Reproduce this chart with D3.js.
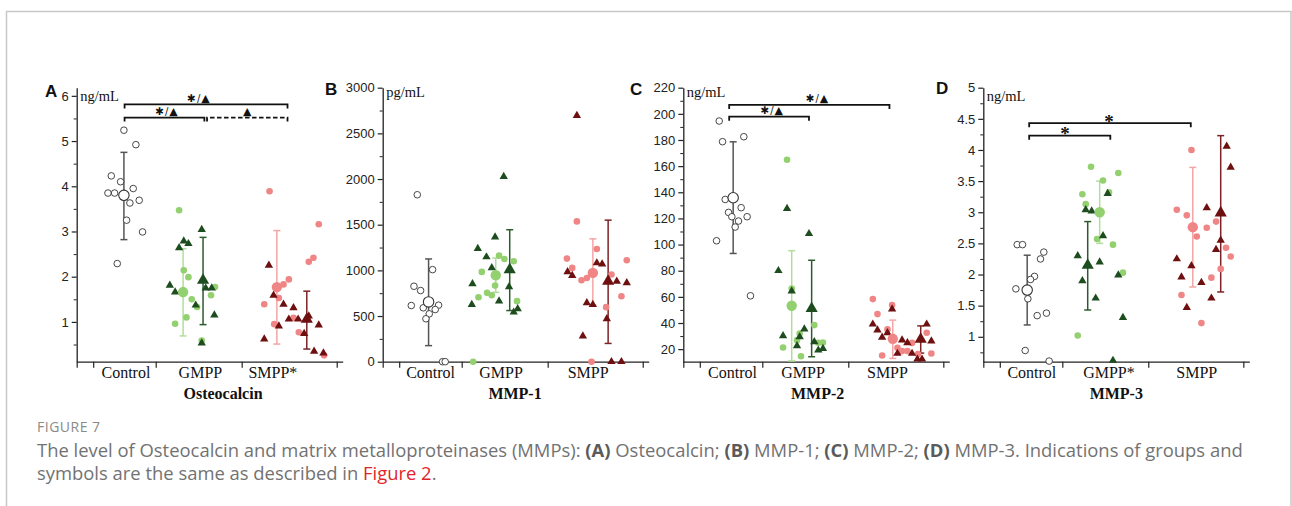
<!DOCTYPE html>
<html><head><meta charset="utf-8">
<script src="https://cdn.jsdelivr.net/npm/d3@7"></script>
<style>body{margin:0;background:#fff} svg{display:block}</style>
</head><body><svg id="c" width="1292" height="506"></svg>
<script>
// ================= DATA =================
// point pairs: [position on category axis (0..4), value]
const catsA = ["Control","GMPP","SMPP*"];
const catPosA = [0.74,1.86,2.95];
const yTicksA = [1,2,3,4,5,6];
const yMinorA = [0.5,1.5,2.5,3.5,4.5,5.5];
const yDomainA = [0.12,6.18];
const A_control = [[0.71,5.24],[0.89,4.92],[0.52,4.23],[0.66,4.10],[0.47,3.85],[0.57,3.85],[0.85,3.95],[0.80,3.63],[0.94,3.69],[0.75,3.25],[0.99,2.99],[0.61,2.29]];
const A_gmppC = [[1.54,3.47],[1.61,2.14],[1.68,1.99],[1.73,1.50],[1.81,1.33],[2.08,1.77],[2.02,1.59],[1.48,0.96],[1.65,1.10],[1.88,0.59]];
const A_gmppT = [[1.40,1.81],[1.48,1.66],[1.54,2.64],[1.61,2.79],[1.68,2.73],[1.79,1.37],[1.88,3.04],[1.94,1.75],[2.03,1.75],[2.07,1.15],[1.88,0.53]];
const A_smppC = [[2.90,3.89],[3.19,1.94],[3.11,1.83],[3.04,1.53],[2.82,1.39],[2.97,0.95],[3.26,1.09],[3.34,0.77],[3.64,3.16],[3.56,2.42],[3.49,2.33],[3.72,0.26]];
const A_smppT = [[2.89,2.25],[2.96,1.59],[3.11,1.39],[3.26,1.31],[3.19,1.06],[3.33,1.06],[3.49,1.13],[3.04,0.91],[3.42,0.74],[2.82,0.62],[3.57,0.35],[3.71,0.31],[3.64,0.93]];
// [position, mean, low, high] for control, GMPP circles, GMPP triangles, SMPP circles, SMPP triangles
const A_stats = [[0.71,3.80,2.82,4.75],[1.60,1.66,0.69,2.62],[1.90,1.92,0.94,2.87],[3.01,1.77,0.51,3.02],[3.46,1.06,0.40,1.68]];
// [from, to, value, label, labelPos, dashed]
const A_brackets = [[0.72,3.17,5.81,"*/▲",1.83,0],[0.72,1.92,5.52,"*/▲",1.35,0],[1.96,3.17,5.52,"▲",2.55,1]];

const catsB = ["Control","GMPP","SMPP"];
const catPosB = [0.72,1.78,3.09];
const yTicksB = [0,500,1000,1500,2000,2500,3000];
const yMinorB = [250,750,1250,1750,2250,2750];
const yDomainB = [0,3000];
const B_control = [[0.52,1828],[0.47,826],[0.57,779],[0.75,1008],[0.43,615],[0.61,590],[0.84,619],[0.79,571],[0.70,524],[0.65,470],[0.90,0],[0.94,0]];
const B_gmppC = [[1.36,0],[1.49,983],[1.44,706],[1.57,754],[1.64,728],[1.69,833],[1.75,1161],[1.83,1125],[1.97,1099],[2.02,663]];
const B_gmppT = [[1.35,852],[1.43,1238],[1.34,626],[1.56,1147],[1.64,1027],[1.69,1365],[1.75,663],[1.82,2028],[1.90,819],[1.97,542],[2.03,579]];
const B_smppC = [[2.92,1536],[2.77,1129],[2.85,1027],[2.99,892],[3.07,917],[3.22,1234],[3.14,0],[3.36,597],[3.44,954],[3.59,717],[3.67,1110]];
const B_smppT = [[2.92,2694],[2.78,983],[2.85,943],[3.01,280],[3.07,644],[3.16,626],[3.22,1081],[3.30,1070],[3.37,470],[3.52,881],[3.67,863],[3.44,0],[3.59,0]];
const B_stats = [[0.69,655,176,1125],[1.70,946,760,1135],[1.91,1008,560,1445],[3.16,972,620,1345],[3.39,881,200,1550]];
const B_brackets = [];

const catsC = ["Control","GMPP","SMPP"];
const catPosC = [0.74,1.80,3.07];
const yTicksC = [20,40,60,80,100,120,140,160,180,200,220];
const yMinorC = [30,50,70,90,110,130,150,170,190,210];
const yDomainC = [10.4,220];
const C_control = [[0.54,194.5],[0.59,178.7],[0.91,182.5],[0.63,134.5],[0.68,124.6],[0.73,121.3],[0.83,118],[0.78,113.4],[0.87,128.2],[0.96,121.3],[0.50,102.9],[1.01,60.8]];
const C_gmppC = [[1.56,164.9],[1.63,66.4],[1.50,21.3],[1.71,26.9],[1.75,32],[1.77,14.6],[1.97,38.4],[2.03,24.9],[2.10,25.1]];
const C_gmppT = [[1.56,127.6],[1.89,108.3],[1.43,80],[1.63,64.4],[1.50,30.2],[1.71,22.5],[1.82,35.3],[1.75,29.4],[1.97,25.6],[2.03,19.2],[2.10,20.5]];
const C_smppC = [[2.85,58.3],[2.92,46.8],[3.07,35.1],[3.14,53.7],[2.99,15.2],[3.22,21],[3.29,18.5],[3.37,18.5],[3.44,24.8],[3.66,32.5],[3.73,16.7],[3.53,16.2]];
const C_smppT = [[3.14,50.6],[2.85,39.1],[2.92,34.6],[2.99,29],[3.07,32.5],[3.29,26.9],[3.37,24.8],[3.22,16.7],[3.44,16.7],[3.52,12.3],[3.59,12.3],[3.66,39.1],[3.73,26.1]];
const C_stats = [[0.75,135.8,93.2,178.6],[1.63,53.2,11,95.3],[1.93,51.1,14.2,88],[3.15,27.9,12.9,42.2],[3.57,27.6,17,37.8]];
const C_brackets = [[0.69,3.10,206.8,"*/▲",2.01,0],[0.69,1.89,197.8,"*/▲",1.33,0]];

const catsD = ["Control","GMPP*","SMPP"];
const catPosD = [0.73,1.89,3.21];
const yTicksD = [1,1.5,2,2.5,3,3.5,4,4.5,5];
const yMinorD = [0.75,1.25,1.75,2.25,2.75,3.25,3.75,4.25,4.75];
const yDomainD = [0.6,5];
const D_control = [[0.51,2.48],[0.59,2.48],[0.91,2.36],[0.86,2.25],[0.77,1.97],[0.71,1.92],[0.49,1.77],[0.67,1.61],[0.81,1.34],[0.95,1.38],[0.63,0.78],[0.99,0.61]];
const D_gmppC = [[1.62,3.73],[1.49,3.29],[1.54,3.13],[1.80,3.51],[1.89,3.32],[2.03,3.63],[1.71,2.57],[1.95,2.48],[2.10,2.03],[1.42,1.02]];
const D_gmppT = [[1.42,2.30],[1.54,3.04],[1.63,3.02],[1.87,3.30],[1.80,2.62],[1.75,2.20],[1.49,1.90],[1.69,1.62],[2.03,1.99],[2.10,1.31],[1.95,0.62]];
const D_smppC = [[3.13,4.00],[2.91,3.04],[3.06,2.95],[3.21,2.61],[3.36,2.75],[3.50,2.85],[3.43,1.95],[2.98,1.67],[3.28,1.22],[3.65,2.43],[3.72,2.29],[3.57,2.09]];
const D_smppT = [[3.66,4.06],[3.72,3.72],[3.36,3.07],[3.57,2.55],[3.50,2.40],[2.91,2.25],[3.13,2.14],[2.98,1.96],[3.28,1.87],[3.43,1.62],[3.06,1.47]];
const D_stats = [[0.66,1.75,1.19,2.31],[1.75,3.00,2.50,3.50],[1.57,2.15,1.43,2.85],[3.15,2.76,1.80,3.72],[3.57,2.99,1.72,4.23]];
const D_brackets = [[0.69,3.12,4.43,"*",1.89,0],[0.69,1.91,4.23,"*",1.23,0]];

const xTickVals = [0,0.248,1.188,2.481,3.91];
const panelLetters = ["A","B","C","D"];
const units = ["ng/mL","pg/mL","ng/mL","ng/mL"];
const titles = ["Osteocalcin","MMP-1","MMP-2","MMP-3"];
const titlePos = [2.20,1.99,2.02,2.00];

// ================= STYLE / LAYOUT =================
const serif = "'Liberation Serif','Times New Roman',serif";
const sans = "'Liberation Sans',Arial,sans-serif";
const PLOT_TOP = 87.7, PLOT_BOT = 361.7, AXIS_LEN = 266;
const layout = [
  {x0:76.7, letterX:45, letterY:97, unitY:100.5},
  {x0:382.7, letterX:325, letterY:95, unitY:96.5},
  {x0:683.3, letterX:630, letterY:95, unitY:96.5},
  {x0:983.3, letterX:936, letterY:94, unitY:100.5}
];
const seriesStyle = [
  {shape:"circle", fill:"#ffffff", stroke:"#333333", bar:"#555555"},
  {shape:"circle", fill:"#93d06f", stroke:"none", bar:"#b2de9b"},
  {shape:"tri", fill:"#1d4d1f", stroke:"none", bar:"#2d5b2e"},
  {shape:"circle", fill:"#ef8585", stroke:"none", bar:"#f4a5a5"},
  {shape:"tri", fill:"#6e0f10", stroke:"none", bar:"#7d2326"}
];

const panelsData = [
  {cats:catsA, catPos:catPosA, ticks:yTicksA, minor:yMinorA, domain:yDomainA, series:[A_control,A_gmppC,A_gmppT,A_smppC,A_smppT], stats:A_stats, brackets:A_brackets},
  {cats:catsB, catPos:catPosB, ticks:yTicksB, minor:yMinorB, domain:yDomainB, series:[B_control,B_gmppC,B_gmppT,B_smppC,B_smppT], stats:B_stats, brackets:B_brackets},
  {cats:catsC, catPos:catPosC, ticks:yTicksC, minor:yMinorC, domain:yDomainC, series:[C_control,C_gmppC,C_gmppT,C_smppC,C_smppT], stats:C_stats, brackets:C_brackets},
  {cats:catsD, catPos:catPosD, ticks:yTicksD, minor:yMinorD, domain:yDomainD, series:[D_control,D_gmppC,D_gmppT,D_smppC,D_smppT], stats:D_stats, brackets:D_brackets}
];

const svg = d3.select("#c");
svg.append("rect").attr("x",6.5).attr("y",11.5).attr("width",1284.5).attr("height",530)
  .attr("fill","none").attr("stroke","#c8c8c8").attr("stroke-width",1.5);

const tri = (area) => d3.symbol().type(d3.symbolTriangle).size(area)();

panelsData.forEach((pd, i) => {
  const L = layout[i];
  const x = d3.scaleLinear().domain([0,4]).range([L.x0, L.x0 + AXIS_LEN]);
  const y = d3.scaleLinear().domain(pd.domain).range([PLOT_BOT, PLOT_TOP]);
  const g = svg.append("g");

  // y axis
  const ya = g.append("g").attr("transform",`translate(${L.x0},0)`)
    .call(d3.axisLeft(y).tickValues(pd.ticks).tickSizeInner(5).tickSizeOuter(0).tickPadding(3).tickFormat(d => String(d)));
  ya.select(".domain").attr("stroke","#222").attr("stroke-width",1.3);
  ya.selectAll(".tick line").attr("stroke","#222").attr("stroke-width",1.2);
  ya.selectAll(".tick text").attr("font-family",sans).attr("font-size",13).attr("fill","#222");
  const ym = g.append("g").attr("transform",`translate(${L.x0},0)`)
    .call(d3.axisLeft(y).tickValues(pd.minor).tickSize(3).tickFormat(""));
  ym.select(".domain").remove();
  ym.selectAll(".tick line").attr("stroke","#222").attr("stroke-width",1);

  // x axis
  const xa = g.append("g").attr("transform",`translate(0,${PLOT_BOT})`)
    .call(d3.axisBottom(x).tickValues(xTickVals).tickSizeInner(6).tickSizeOuter(0).tickFormat(""));
  xa.select(".domain").attr("stroke","#222").attr("stroke-width",1.3);
  xa.selectAll(".tick line").attr("stroke","#222").attr("stroke-width",1.2);

  // category labels
  g.selectAll(".cat").data(pd.cats).join("text")
    .attr("x",(d,k)=>x(pd.catPos[k])).attr("y",PLOT_BOT+16)
    .attr("text-anchor","middle").attr("font-family",serif).attr("font-size",16).attr("fill","#111")
    .text(d=>d);
  g.append("text").attr("x",x(titlePos[i])).attr("y",PLOT_BOT+37)
    .attr("text-anchor","middle").attr("font-family",serif).attr("font-weight","bold").attr("font-size",16).attr("fill","#111")
    .text(titles[i]);
  // unit
  g.append("text").attr("x",L.x0+3.5).attr("y",L.unitY).attr("font-family",serif).attr("font-size",14.5).attr("fill","#111").text(units[i]);
  // panel letter
  g.append("text").attr("x",L.letterX).attr("y",L.letterY).attr("font-family",sans).attr("font-weight","bold").attr("font-size",17).attr("fill","#111").text(panelLetters[i]);

  // brackets
  pd.brackets.forEach(b => {
    const [x1,x2,v,lab,lp,dashed] = b;
    const yy = y(v);
    g.append("path").attr("d",`M${x(x1)},${yy+4}V${yy}H${x(x2)}V${yy+4}`)
      .attr("fill","none").attr("stroke","#111").attr("stroke-width",1.8)
      .attr("stroke-dasharray", dashed ? "4.5,2.5" : null);
    const t = g.append("text").attr("x",x(lp)).attr("y",yy-2.5).attr("text-anchor","middle").attr("fill","#111");
    if (lab === "*") {
      t.attr("font-family",serif).attr("font-weight","bold").attr("font-size",19).attr("dy",7).text("*");
    } else {
      t.attr("font-family","'DejaVu Sans',sans-serif");
      lab.split("").forEach(ch => {
        const ts = t.append("tspan").attr("fill","#111");
        if (ch === "*") ts.attr("font-size",10.5).text("\u2731");
        else if (ch === "/") ts.attr("font-size",10).attr("dx",1).text("/");
        else ts.attr("font-size",11).attr("dx",1).text("\u25B2");
      });
    }
  });

  // error bars
  pd.stats.forEach((s,k) => {
    const st = seriesStyle[k];
    const [p,m,lo,hi] = s;
    const lo2 = Math.max(lo, pd.domain[0]);
    const xc = x(p);
    g.append("line").attr("x1",xc).attr("x2",xc).attr("y1",y(lo2)).attr("y2",y(hi)).attr("stroke",st.bar).attr("stroke-width",1.5);
    g.append("line").attr("x1",xc-3.5).attr("x2",xc+3.5).attr("y1",y(hi)).attr("y2",y(hi)).attr("stroke",st.bar).attr("stroke-width",1.5);
    if (lo >= pd.domain[0]) g.append("line").attr("x1",xc-3.5).attr("x2",xc+3.5).attr("y1",y(lo)).attr("y2",y(lo)).attr("stroke",st.bar).attr("stroke-width",1.5);
  });

  // points
  pd.series.forEach((ser,k) => {
    const st = seriesStyle[k];
    if (st.shape === "circle") {
      g.append("g").selectAll("circle").data(ser).join("circle")
        .attr("cx",d=>x(d[0])).attr("cy",d=>y(d[1])).attr("r",3.3)
        .attr("fill",st.fill).attr("stroke",st.stroke).attr("stroke-width",0.9);
    } else {
      g.append("g").selectAll("path").data(ser).join("path")
        .attr("d",tri(30)).attr("transform",d=>`translate(${x(d[0])},${y(d[1])})`)
        .attr("fill",st.fill);
    }
  });

  // means
  pd.stats.forEach((s,k) => {
    const st = seriesStyle[k];
    const [p,m] = s;
    if (st.shape === "circle") {
      g.append("circle").attr("cx",x(p)).attr("cy",y(m)).attr("r",5.2)
        .attr("fill",st.fill).attr("stroke",st.stroke).attr("stroke-width",1.1);
    } else {
      g.append("path").attr("d",tri(64)).attr("transform",`translate(${x(p)},${y(m)})`).attr("fill",st.fill);
    }
  });
});

// ================= CAPTION =================
const capFont = "'Open Sans','Noto Sans',sans-serif";
svg.append("text").attr("x",37).attr("y",432).attr("font-family",capFont).attr("font-size",14)
  .attr("letter-spacing",0.5).attr("fill","#8a8a8a").text("FIGURE 7");
const line1 = [["The level of Osteocalcin and matrix metalloproteinases (MMPs): ","n"],["(A)","b"],[" Osteocalcin; ","n"],["(B)","b"],[" MMP-1; ","n"],["(C)","b"],[" MMP-2; ","n"],["(D)","b"],[" MMP-3. Indications of groups and","n"]];
const line2 = [["symbols are the same as described in ","n"],["Figure 2","r"],[".","n"]];
function capLine(segs, yb, size){
  const t = svg.append("text").attr("x",37).attr("y",yb).attr("font-family",capFont).attr("font-size",size).attr("fill","#727272");
  segs.forEach(s => {
    const ts = t.append("tspan").text(s[0]);
    if (s[1]==="b") ts.attr("font-weight","bold").attr("fill","#5a5a5a");
    if (s[1]==="r") ts.attr("fill","#e0262a");
  });
  return t;
}
let t1 = capLine(line1, 457, 17);
const w1 = t1.node().getComputedTextLength();
const fs = 17 * 1206 / w1;
t1.attr("font-size", fs);
capLine(line2, 480, fs);
</script></body></html>
